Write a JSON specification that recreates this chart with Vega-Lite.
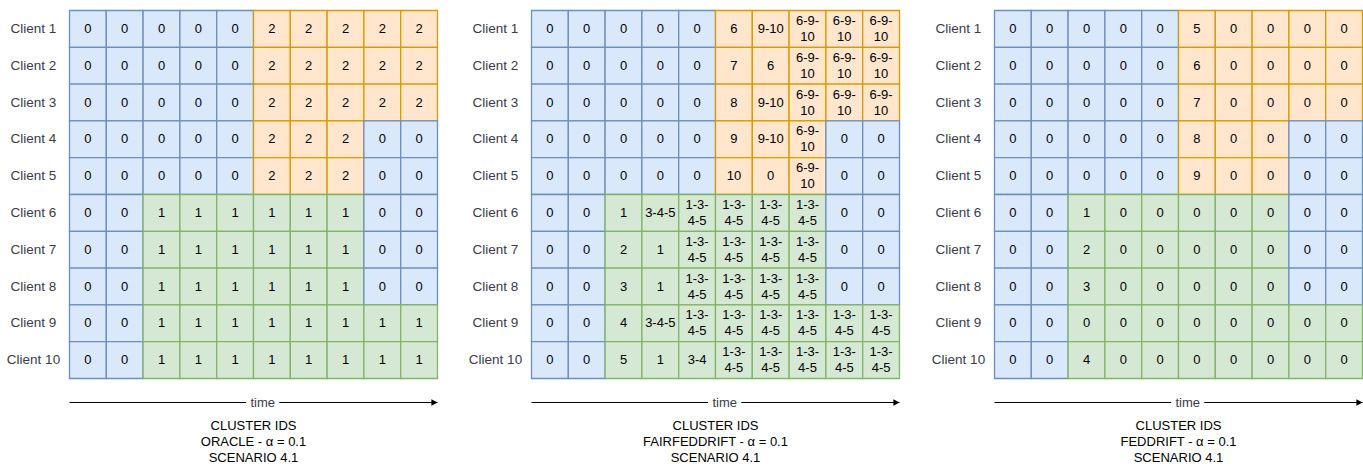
{
  "$schema": "https://vega.github.io/schema/vega-lite/v6.json",
  "background": "white",
  "padding": {"left": 5.5, "top": 9.5, "right": 0, "bottom": 0},
  "config": {"view": {"stroke": null}, "concat": {"spacing": 29}},
  "datasets": {
    "cells": [
      {"p":"A","c":1,"t":1,"l":"0","k":"b"},{"p":"A","c":1,"t":2,"l":"0","k":"b"},{"p":"A","c":1,"t":3,"l":"0","k":"b"},{"p":"A","c":1,"t":4,"l":"0","k":"b"},{"p":"A","c":1,"t":5,"l":"0","k":"b"},{"p":"A","c":1,"t":6,"l":"2","k":"o"},{"p":"A","c":1,"t":7,"l":"2","k":"o"},{"p":"A","c":1,"t":8,"l":"2","k":"o"},{"p":"A","c":1,"t":9,"l":"2","k":"o"},{"p":"A","c":1,"t":10,"l":"2","k":"o"},
      {"p":"A","c":2,"t":1,"l":"0","k":"b"},{"p":"A","c":2,"t":2,"l":"0","k":"b"},{"p":"A","c":2,"t":3,"l":"0","k":"b"},{"p":"A","c":2,"t":4,"l":"0","k":"b"},{"p":"A","c":2,"t":5,"l":"0","k":"b"},{"p":"A","c":2,"t":6,"l":"2","k":"o"},{"p":"A","c":2,"t":7,"l":"2","k":"o"},{"p":"A","c":2,"t":8,"l":"2","k":"o"},{"p":"A","c":2,"t":9,"l":"2","k":"o"},{"p":"A","c":2,"t":10,"l":"2","k":"o"},
      {"p":"A","c":3,"t":1,"l":"0","k":"b"},{"p":"A","c":3,"t":2,"l":"0","k":"b"},{"p":"A","c":3,"t":3,"l":"0","k":"b"},{"p":"A","c":3,"t":4,"l":"0","k":"b"},{"p":"A","c":3,"t":5,"l":"0","k":"b"},{"p":"A","c":3,"t":6,"l":"2","k":"o"},{"p":"A","c":3,"t":7,"l":"2","k":"o"},{"p":"A","c":3,"t":8,"l":"2","k":"o"},{"p":"A","c":3,"t":9,"l":"2","k":"o"},{"p":"A","c":3,"t":10,"l":"2","k":"o"},
      {"p":"A","c":4,"t":1,"l":"0","k":"b"},{"p":"A","c":4,"t":2,"l":"0","k":"b"},{"p":"A","c":4,"t":3,"l":"0","k":"b"},{"p":"A","c":4,"t":4,"l":"0","k":"b"},{"p":"A","c":4,"t":5,"l":"0","k":"b"},{"p":"A","c":4,"t":6,"l":"2","k":"o"},{"p":"A","c":4,"t":7,"l":"2","k":"o"},{"p":"A","c":4,"t":8,"l":"2","k":"o"},{"p":"A","c":4,"t":9,"l":"0","k":"b"},{"p":"A","c":4,"t":10,"l":"0","k":"b"},
      {"p":"A","c":5,"t":1,"l":"0","k":"b"},{"p":"A","c":5,"t":2,"l":"0","k":"b"},{"p":"A","c":5,"t":3,"l":"0","k":"b"},{"p":"A","c":5,"t":4,"l":"0","k":"b"},{"p":"A","c":5,"t":5,"l":"0","k":"b"},{"p":"A","c":5,"t":6,"l":"2","k":"o"},{"p":"A","c":5,"t":7,"l":"2","k":"o"},{"p":"A","c":5,"t":8,"l":"2","k":"o"},{"p":"A","c":5,"t":9,"l":"0","k":"b"},{"p":"A","c":5,"t":10,"l":"0","k":"b"},
      {"p":"A","c":6,"t":1,"l":"0","k":"b"},{"p":"A","c":6,"t":2,"l":"0","k":"b"},{"p":"A","c":6,"t":3,"l":"1","k":"g"},{"p":"A","c":6,"t":4,"l":"1","k":"g"},{"p":"A","c":6,"t":5,"l":"1","k":"g"},{"p":"A","c":6,"t":6,"l":"1","k":"g"},{"p":"A","c":6,"t":7,"l":"1","k":"g"},{"p":"A","c":6,"t":8,"l":"1","k":"g"},{"p":"A","c":6,"t":9,"l":"0","k":"b"},{"p":"A","c":6,"t":10,"l":"0","k":"b"},
      {"p":"A","c":7,"t":1,"l":"0","k":"b"},{"p":"A","c":7,"t":2,"l":"0","k":"b"},{"p":"A","c":7,"t":3,"l":"1","k":"g"},{"p":"A","c":7,"t":4,"l":"1","k":"g"},{"p":"A","c":7,"t":5,"l":"1","k":"g"},{"p":"A","c":7,"t":6,"l":"1","k":"g"},{"p":"A","c":7,"t":7,"l":"1","k":"g"},{"p":"A","c":7,"t":8,"l":"1","k":"g"},{"p":"A","c":7,"t":9,"l":"0","k":"b"},{"p":"A","c":7,"t":10,"l":"0","k":"b"},
      {"p":"A","c":8,"t":1,"l":"0","k":"b"},{"p":"A","c":8,"t":2,"l":"0","k":"b"},{"p":"A","c":8,"t":3,"l":"1","k":"g"},{"p":"A","c":8,"t":4,"l":"1","k":"g"},{"p":"A","c":8,"t":5,"l":"1","k":"g"},{"p":"A","c":8,"t":6,"l":"1","k":"g"},{"p":"A","c":8,"t":7,"l":"1","k":"g"},{"p":"A","c":8,"t":8,"l":"1","k":"g"},{"p":"A","c":8,"t":9,"l":"0","k":"b"},{"p":"A","c":8,"t":10,"l":"0","k":"b"},
      {"p":"A","c":9,"t":1,"l":"0","k":"b"},{"p":"A","c":9,"t":2,"l":"0","k":"b"},{"p":"A","c":9,"t":3,"l":"1","k":"g"},{"p":"A","c":9,"t":4,"l":"1","k":"g"},{"p":"A","c":9,"t":5,"l":"1","k":"g"},{"p":"A","c":9,"t":6,"l":"1","k":"g"},{"p":"A","c":9,"t":7,"l":"1","k":"g"},{"p":"A","c":9,"t":8,"l":"1","k":"g"},{"p":"A","c":9,"t":9,"l":"1","k":"g"},{"p":"A","c":9,"t":10,"l":"1","k":"g"},
      {"p":"A","c":10,"t":1,"l":"0","k":"b"},{"p":"A","c":10,"t":2,"l":"0","k":"b"},{"p":"A","c":10,"t":3,"l":"1","k":"g"},{"p":"A","c":10,"t":4,"l":"1","k":"g"},{"p":"A","c":10,"t":5,"l":"1","k":"g"},{"p":"A","c":10,"t":6,"l":"1","k":"g"},{"p":"A","c":10,"t":7,"l":"1","k":"g"},{"p":"A","c":10,"t":8,"l":"1","k":"g"},{"p":"A","c":10,"t":9,"l":"1","k":"g"},{"p":"A","c":10,"t":10,"l":"1","k":"g"},

      {"p":"B","c":1,"t":1,"l":"0","k":"b"},{"p":"B","c":1,"t":2,"l":"0","k":"b"},{"p":"B","c":1,"t":3,"l":"0","k":"b"},{"p":"B","c":1,"t":4,"l":"0","k":"b"},{"p":"B","c":1,"t":5,"l":"0","k":"b"},{"p":"B","c":1,"t":6,"l":"6","k":"o"},{"p":"B","c":1,"t":7,"l":"9-10","k":"o"},{"p":"B","c":1,"t":8,"l":"6-9-\n10","k":"o"},{"p":"B","c":1,"t":9,"l":"6-9-\n10","k":"o"},{"p":"B","c":1,"t":10,"l":"6-9-\n10","k":"o"},
      {"p":"B","c":2,"t":1,"l":"0","k":"b"},{"p":"B","c":2,"t":2,"l":"0","k":"b"},{"p":"B","c":2,"t":3,"l":"0","k":"b"},{"p":"B","c":2,"t":4,"l":"0","k":"b"},{"p":"B","c":2,"t":5,"l":"0","k":"b"},{"p":"B","c":2,"t":6,"l":"7","k":"o"},{"p":"B","c":2,"t":7,"l":"6","k":"o"},{"p":"B","c":2,"t":8,"l":"6-9-\n10","k":"o"},{"p":"B","c":2,"t":9,"l":"6-9-\n10","k":"o"},{"p":"B","c":2,"t":10,"l":"6-9-\n10","k":"o"},
      {"p":"B","c":3,"t":1,"l":"0","k":"b"},{"p":"B","c":3,"t":2,"l":"0","k":"b"},{"p":"B","c":3,"t":3,"l":"0","k":"b"},{"p":"B","c":3,"t":4,"l":"0","k":"b"},{"p":"B","c":3,"t":5,"l":"0","k":"b"},{"p":"B","c":3,"t":6,"l":"8","k":"o"},{"p":"B","c":3,"t":7,"l":"9-10","k":"o"},{"p":"B","c":3,"t":8,"l":"6-9-\n10","k":"o"},{"p":"B","c":3,"t":9,"l":"6-9-\n10","k":"o"},{"p":"B","c":3,"t":10,"l":"6-9-\n10","k":"o"},
      {"p":"B","c":4,"t":1,"l":"0","k":"b"},{"p":"B","c":4,"t":2,"l":"0","k":"b"},{"p":"B","c":4,"t":3,"l":"0","k":"b"},{"p":"B","c":4,"t":4,"l":"0","k":"b"},{"p":"B","c":4,"t":5,"l":"0","k":"b"},{"p":"B","c":4,"t":6,"l":"9","k":"o"},{"p":"B","c":4,"t":7,"l":"9-10","k":"o"},{"p":"B","c":4,"t":8,"l":"6-9-\n10","k":"o"},{"p":"B","c":4,"t":9,"l":"0","k":"b"},{"p":"B","c":4,"t":10,"l":"0","k":"b"},
      {"p":"B","c":5,"t":1,"l":"0","k":"b"},{"p":"B","c":5,"t":2,"l":"0","k":"b"},{"p":"B","c":5,"t":3,"l":"0","k":"b"},{"p":"B","c":5,"t":4,"l":"0","k":"b"},{"p":"B","c":5,"t":5,"l":"0","k":"b"},{"p":"B","c":5,"t":6,"l":"10","k":"o"},{"p":"B","c":5,"t":7,"l":"0","k":"o"},{"p":"B","c":5,"t":8,"l":"6-9-\n10","k":"o"},{"p":"B","c":5,"t":9,"l":"0","k":"b"},{"p":"B","c":5,"t":10,"l":"0","k":"b"},
      {"p":"B","c":6,"t":1,"l":"0","k":"b"},{"p":"B","c":6,"t":2,"l":"0","k":"b"},{"p":"B","c":6,"t":3,"l":"1","k":"g"},{"p":"B","c":6,"t":4,"l":"3-4-5","k":"g"},{"p":"B","c":6,"t":5,"l":"1-3-\n4-5","k":"g"},{"p":"B","c":6,"t":6,"l":"1-3-\n4-5","k":"g"},{"p":"B","c":6,"t":7,"l":"1-3-\n4-5","k":"g"},{"p":"B","c":6,"t":8,"l":"1-3-\n4-5","k":"g"},{"p":"B","c":6,"t":9,"l":"0","k":"b"},{"p":"B","c":6,"t":10,"l":"0","k":"b"},
      {"p":"B","c":7,"t":1,"l":"0","k":"b"},{"p":"B","c":7,"t":2,"l":"0","k":"b"},{"p":"B","c":7,"t":3,"l":"2","k":"g"},{"p":"B","c":7,"t":4,"l":"1","k":"g"},{"p":"B","c":7,"t":5,"l":"1-3-\n4-5","k":"g"},{"p":"B","c":7,"t":6,"l":"1-3-\n4-5","k":"g"},{"p":"B","c":7,"t":7,"l":"1-3-\n4-5","k":"g"},{"p":"B","c":7,"t":8,"l":"1-3-\n4-5","k":"g"},{"p":"B","c":7,"t":9,"l":"0","k":"b"},{"p":"B","c":7,"t":10,"l":"0","k":"b"},
      {"p":"B","c":8,"t":1,"l":"0","k":"b"},{"p":"B","c":8,"t":2,"l":"0","k":"b"},{"p":"B","c":8,"t":3,"l":"3","k":"g"},{"p":"B","c":8,"t":4,"l":"1","k":"g"},{"p":"B","c":8,"t":5,"l":"1-3-\n4-5","k":"g"},{"p":"B","c":8,"t":6,"l":"1-3-\n4-5","k":"g"},{"p":"B","c":8,"t":7,"l":"1-3-\n4-5","k":"g"},{"p":"B","c":8,"t":8,"l":"1-3-\n4-5","k":"g"},{"p":"B","c":8,"t":9,"l":"0","k":"b"},{"p":"B","c":8,"t":10,"l":"0","k":"b"},
      {"p":"B","c":9,"t":1,"l":"0","k":"b"},{"p":"B","c":9,"t":2,"l":"0","k":"b"},{"p":"B","c":9,"t":3,"l":"4","k":"g"},{"p":"B","c":9,"t":4,"l":"3-4-5","k":"g"},{"p":"B","c":9,"t":5,"l":"1-3-\n4-5","k":"g"},{"p":"B","c":9,"t":6,"l":"1-3-\n4-5","k":"g"},{"p":"B","c":9,"t":7,"l":"1-3-\n4-5","k":"g"},{"p":"B","c":9,"t":8,"l":"1-3-\n4-5","k":"g"},{"p":"B","c":9,"t":9,"l":"1-3-\n4-5","k":"g"},{"p":"B","c":9,"t":10,"l":"1-3-\n4-5","k":"g"},
      {"p":"B","c":10,"t":1,"l":"0","k":"b"},{"p":"B","c":10,"t":2,"l":"0","k":"b"},{"p":"B","c":10,"t":3,"l":"5","k":"g"},{"p":"B","c":10,"t":4,"l":"1","k":"g"},{"p":"B","c":10,"t":5,"l":"3-4","k":"g"},{"p":"B","c":10,"t":6,"l":"1-3-\n4-5","k":"g"},{"p":"B","c":10,"t":7,"l":"1-3-\n4-5","k":"g"},{"p":"B","c":10,"t":8,"l":"1-3-\n4-5","k":"g"},{"p":"B","c":10,"t":9,"l":"1-3-\n4-5","k":"g"},{"p":"B","c":10,"t":10,"l":"1-3-\n4-5","k":"g"},

      {"p":"C","c":1,"t":1,"l":"0","k":"b"},{"p":"C","c":1,"t":2,"l":"0","k":"b"},{"p":"C","c":1,"t":3,"l":"0","k":"b"},{"p":"C","c":1,"t":4,"l":"0","k":"b"},{"p":"C","c":1,"t":5,"l":"0","k":"b"},{"p":"C","c":1,"t":6,"l":"5","k":"o"},{"p":"C","c":1,"t":7,"l":"0","k":"o"},{"p":"C","c":1,"t":8,"l":"0","k":"o"},{"p":"C","c":1,"t":9,"l":"0","k":"o"},{"p":"C","c":1,"t":10,"l":"0","k":"o"},
      {"p":"C","c":2,"t":1,"l":"0","k":"b"},{"p":"C","c":2,"t":2,"l":"0","k":"b"},{"p":"C","c":2,"t":3,"l":"0","k":"b"},{"p":"C","c":2,"t":4,"l":"0","k":"b"},{"p":"C","c":2,"t":5,"l":"0","k":"b"},{"p":"C","c":2,"t":6,"l":"6","k":"o"},{"p":"C","c":2,"t":7,"l":"0","k":"o"},{"p":"C","c":2,"t":8,"l":"0","k":"o"},{"p":"C","c":2,"t":9,"l":"0","k":"o"},{"p":"C","c":2,"t":10,"l":"0","k":"o"},
      {"p":"C","c":3,"t":1,"l":"0","k":"b"},{"p":"C","c":3,"t":2,"l":"0","k":"b"},{"p":"C","c":3,"t":3,"l":"0","k":"b"},{"p":"C","c":3,"t":4,"l":"0","k":"b"},{"p":"C","c":3,"t":5,"l":"0","k":"b"},{"p":"C","c":3,"t":6,"l":"7","k":"o"},{"p":"C","c":3,"t":7,"l":"0","k":"o"},{"p":"C","c":3,"t":8,"l":"0","k":"o"},{"p":"C","c":3,"t":9,"l":"0","k":"o"},{"p":"C","c":3,"t":10,"l":"0","k":"o"},
      {"p":"C","c":4,"t":1,"l":"0","k":"b"},{"p":"C","c":4,"t":2,"l":"0","k":"b"},{"p":"C","c":4,"t":3,"l":"0","k":"b"},{"p":"C","c":4,"t":4,"l":"0","k":"b"},{"p":"C","c":4,"t":5,"l":"0","k":"b"},{"p":"C","c":4,"t":6,"l":"8","k":"o"},{"p":"C","c":4,"t":7,"l":"0","k":"o"},{"p":"C","c":4,"t":8,"l":"0","k":"o"},{"p":"C","c":4,"t":9,"l":"0","k":"b"},{"p":"C","c":4,"t":10,"l":"0","k":"b"},
      {"p":"C","c":5,"t":1,"l":"0","k":"b"},{"p":"C","c":5,"t":2,"l":"0","k":"b"},{"p":"C","c":5,"t":3,"l":"0","k":"b"},{"p":"C","c":5,"t":4,"l":"0","k":"b"},{"p":"C","c":5,"t":5,"l":"0","k":"b"},{"p":"C","c":5,"t":6,"l":"9","k":"o"},{"p":"C","c":5,"t":7,"l":"0","k":"o"},{"p":"C","c":5,"t":8,"l":"0","k":"o"},{"p":"C","c":5,"t":9,"l":"0","k":"b"},{"p":"C","c":5,"t":10,"l":"0","k":"b"},
      {"p":"C","c":6,"t":1,"l":"0","k":"b"},{"p":"C","c":6,"t":2,"l":"0","k":"b"},{"p":"C","c":6,"t":3,"l":"1","k":"g"},{"p":"C","c":6,"t":4,"l":"0","k":"g"},{"p":"C","c":6,"t":5,"l":"0","k":"g"},{"p":"C","c":6,"t":6,"l":"0","k":"g"},{"p":"C","c":6,"t":7,"l":"0","k":"g"},{"p":"C","c":6,"t":8,"l":"0","k":"g"},{"p":"C","c":6,"t":9,"l":"0","k":"b"},{"p":"C","c":6,"t":10,"l":"0","k":"b"},
      {"p":"C","c":7,"t":1,"l":"0","k":"b"},{"p":"C","c":7,"t":2,"l":"0","k":"b"},{"p":"C","c":7,"t":3,"l":"2","k":"g"},{"p":"C","c":7,"t":4,"l":"0","k":"g"},{"p":"C","c":7,"t":5,"l":"0","k":"g"},{"p":"C","c":7,"t":6,"l":"0","k":"g"},{"p":"C","c":7,"t":7,"l":"0","k":"g"},{"p":"C","c":7,"t":8,"l":"0","k":"g"},{"p":"C","c":7,"t":9,"l":"0","k":"b"},{"p":"C","c":7,"t":10,"l":"0","k":"b"},
      {"p":"C","c":8,"t":1,"l":"0","k":"b"},{"p":"C","c":8,"t":2,"l":"0","k":"b"},{"p":"C","c":8,"t":3,"l":"3","k":"g"},{"p":"C","c":8,"t":4,"l":"0","k":"g"},{"p":"C","c":8,"t":5,"l":"0","k":"g"},{"p":"C","c":8,"t":6,"l":"0","k":"g"},{"p":"C","c":8,"t":7,"l":"0","k":"g"},{"p":"C","c":8,"t":8,"l":"0","k":"g"},{"p":"C","c":8,"t":9,"l":"0","k":"b"},{"p":"C","c":8,"t":10,"l":"0","k":"b"},
      {"p":"C","c":9,"t":1,"l":"0","k":"b"},{"p":"C","c":9,"t":2,"l":"0","k":"b"},{"p":"C","c":9,"t":3,"l":"0","k":"g"},{"p":"C","c":9,"t":4,"l":"0","k":"g"},{"p":"C","c":9,"t":5,"l":"0","k":"g"},{"p":"C","c":9,"t":6,"l":"0","k":"g"},{"p":"C","c":9,"t":7,"l":"0","k":"g"},{"p":"C","c":9,"t":8,"l":"0","k":"g"},{"p":"C","c":9,"t":9,"l":"0","k":"g"},{"p":"C","c":9,"t":10,"l":"0","k":"g"},
      {"p":"C","c":10,"t":1,"l":"0","k":"b"},{"p":"C","c":10,"t":2,"l":"0","k":"b"},{"p":"C","c":10,"t":3,"l":"4","k":"g"},{"p":"C","c":10,"t":4,"l":"0","k":"g"},{"p":"C","c":10,"t":5,"l":"0","k":"g"},{"p":"C","c":10,"t":6,"l":"0","k":"g"},{"p":"C","c":10,"t":7,"l":"0","k":"g"},{"p":"C","c":10,"t":8,"l":"0","k":"g"},{"p":"C","c":10,"t":9,"l":"0","k":"g"},{"p":"C","c":10,"t":10,"l":"0","k":"g"}
    ],
    "arrowLine": [{"a": 0, "b": 4.8, "lv": 0}, {"a": 5.7, "b": 10, "lv": 0}],
    "arrowHead": [{"a": 10, "lv": 0}],
    "arrowText": [{"a": 5.25, "lv": 0, "txt": "time"}]
  },
  "hconcat": [
    {
      "spacing": 16,
      "vconcat": [
        {
          "width": 368, "height": 368,
          "data": {"name": "cells"},
          "transform": [{"filter": "datum.p === 'A'"}],
          "encoding": {
            "x": {"field": "t", "type": "ordinal", "axis": null, "scale": {"paddingInner": 0, "paddingOuter": 0}},
            "y": {"field": "c", "type": "ordinal", "scale": {"paddingInner": 0, "paddingOuter": 0},
                  "axis": {"title": null, "domain": false, "ticks": false, "labelAlign": "center", "labelPadding": 36.5, "minExtent": 62, "maxExtent": 62, "labelFontSize": 13.5, "labelFont": "Liberation Sans", "labelColor": "#3b3b4a", "labelExpr": "'Client ' + datum.value"}}
          },
          "layer": [
            {"mark": {"type": "rect", "strokeWidth": 1.3},
             "encoding": {
               "fill": {"field": "k", "type": "nominal", "legend": null, "scale": {"domain": ["b", "o", "g"], "range": ["#dae8fc", "#ffe6cc", "#d5e8d4"]}},
               "stroke": {"field": "k", "type": "nominal", "legend": null, "scale": {"domain": ["b", "o", "g"], "range": ["#6c8ebf", "#d79b00", "#82b366"]}}
             }},
            {"transform": [{"filter": "indexof(datum.l, '\\n') < 0"}],
             "mark": {"type": "text", "fontSize": 13, "font": "Liberation Sans", "color": "#000000"},
             "encoding": {"text": {"field": "l"}}},
            {"transform": [{"filter": "indexof(datum.l, '\\n') >= 0"}],
             "mark": {"type": "text", "lineBreak": "\n", "fontSize": 13, "font": "Liberation Sans", "lineHeight": 16, "dy": -8, "color": "#000000"},
             "encoding": {"text": {"field": "l"}}}
          ]
        },
        {
          "width": 368, "height": 14,
          "title": {"text": ["CLUSTER IDS", "ORACLE - α = 0.1", "SCENARIO 4.1"], "orient": "bottom", "anchor": "middle", "frame": "group", "fontSize": 13, "font": "Liberation Sans", "fontWeight": "normal", "lineHeight": 16, "offset": 10, "color": "#000000"},
          "encoding": {
            "x": {"field": "a", "type": "quantitative", "axis": null, "scale": {"domain": [0, 10], "nice": false, "zero": false}},
            "y": {"field": "lv", "type": "quantitative", "axis": null, "scale": {"domain": [-1, 1]}}
          },
          "layer": [
            {"data": {"name": "arrowLine"}, "mark": {"type": "rule", "color": "#000000", "strokeWidth": 1.2}, "encoding": {"x2": {"field": "b"}}},
            {"data": {"name": "arrowHead"}, "mark": {"type": "point", "shape": "M-1,-0.55L0,0L-1,0.55Z", "filled": true, "color": "#000000", "size": 150, "opacity": 1}},
            {"data": {"name": "arrowText"}, "mark": {"type": "text", "fontSize": 13, "font": "Liberation Sans", "color": "#3b3b4a"}, "encoding": {"text": {"field": "txt"}}}
          ]
        }
      ]
    },
    {
      "spacing": 16,
      "vconcat": [
        {
          "width": 368, "height": 368,
          "data": {"name": "cells"},
          "transform": [{"filter": "datum.p === 'B'"}],
          "encoding": {
            "x": {"field": "t", "type": "ordinal", "axis": null, "scale": {"paddingInner": 0, "paddingOuter": 0}},
            "y": {"field": "c", "type": "ordinal", "scale": {"paddingInner": 0, "paddingOuter": 0},
                  "axis": {"title": null, "domain": false, "ticks": false, "labelAlign": "center", "labelPadding": 36.5, "minExtent": 62, "maxExtent": 62, "labelFontSize": 13.5, "labelFont": "Liberation Sans", "labelColor": "#3b3b4a", "labelExpr": "'Client ' + datum.value"}}
          },
          "layer": [
            {"mark": {"type": "rect", "strokeWidth": 1.3},
             "encoding": {
               "fill": {"field": "k", "type": "nominal", "legend": null, "scale": {"domain": ["b", "o", "g"], "range": ["#dae8fc", "#ffe6cc", "#d5e8d4"]}},
               "stroke": {"field": "k", "type": "nominal", "legend": null, "scale": {"domain": ["b", "o", "g"], "range": ["#6c8ebf", "#d79b00", "#82b366"]}}
             }},
            {"transform": [{"filter": "indexof(datum.l, '\\n') < 0"}],
             "mark": {"type": "text", "fontSize": 13, "font": "Liberation Sans", "color": "#000000"},
             "encoding": {"text": {"field": "l"}}},
            {"transform": [{"filter": "indexof(datum.l, '\\n') >= 0"}],
             "mark": {"type": "text", "lineBreak": "\n", "fontSize": 13, "font": "Liberation Sans", "lineHeight": 16, "dy": -8, "color": "#000000"},
             "encoding": {"text": {"field": "l"}}}
          ]
        },
        {
          "width": 368, "height": 14,
          "title": {"text": ["CLUSTER IDS", "FAIRFEDDRIFT - α = 0.1", "SCENARIO 4.1"], "orient": "bottom", "anchor": "middle", "frame": "group", "fontSize": 13, "font": "Liberation Sans", "fontWeight": "normal", "lineHeight": 16, "offset": 10, "color": "#000000"},
          "encoding": {
            "x": {"field": "a", "type": "quantitative", "axis": null, "scale": {"domain": [0, 10], "nice": false, "zero": false}},
            "y": {"field": "lv", "type": "quantitative", "axis": null, "scale": {"domain": [-1, 1]}}
          },
          "layer": [
            {"data": {"name": "arrowLine"}, "mark": {"type": "rule", "color": "#000000", "strokeWidth": 1.2}, "encoding": {"x2": {"field": "b"}}},
            {"data": {"name": "arrowHead"}, "mark": {"type": "point", "shape": "M-1,-0.55L0,0L-1,0.55Z", "filled": true, "color": "#000000", "size": 150, "opacity": 1}},
            {"data": {"name": "arrowText"}, "mark": {"type": "text", "fontSize": 13, "font": "Liberation Sans", "color": "#3b3b4a"}, "encoding": {"text": {"field": "txt"}}}
          ]
        }
      ]
    },
    {
      "spacing": 16,
      "vconcat": [
        {
          "width": 368, "height": 368,
          "data": {"name": "cells"},
          "transform": [{"filter": "datum.p === 'C'"}],
          "encoding": {
            "x": {"field": "t", "type": "ordinal", "axis": null, "scale": {"paddingInner": 0, "paddingOuter": 0}},
            "y": {"field": "c", "type": "ordinal", "scale": {"paddingInner": 0, "paddingOuter": 0},
                  "axis": {"title": null, "domain": false, "ticks": false, "labelAlign": "center", "labelPadding": 36.5, "minExtent": 65, "maxExtent": 65, "labelFontSize": 13.5, "labelFont": "Liberation Sans", "labelColor": "#3b3b4a", "labelExpr": "'Client ' + datum.value"}}
          },
          "layer": [
            {"mark": {"type": "rect", "strokeWidth": 1.3},
             "encoding": {
               "fill": {"field": "k", "type": "nominal", "legend": null, "scale": {"domain": ["b", "o", "g"], "range": ["#dae8fc", "#ffe6cc", "#d5e8d4"]}},
               "stroke": {"field": "k", "type": "nominal", "legend": null, "scale": {"domain": ["b", "o", "g"], "range": ["#6c8ebf", "#d79b00", "#82b366"]}}
             }},
            {"transform": [{"filter": "indexof(datum.l, '\\n') < 0"}],
             "mark": {"type": "text", "fontSize": 13, "font": "Liberation Sans", "color": "#000000"},
             "encoding": {"text": {"field": "l"}}},
            {"transform": [{"filter": "indexof(datum.l, '\\n') >= 0"}],
             "mark": {"type": "text", "lineBreak": "\n", "fontSize": 13, "font": "Liberation Sans", "lineHeight": 16, "dy": -8, "color": "#000000"},
             "encoding": {"text": {"field": "l"}}}
          ]
        },
        {
          "width": 368, "height": 14,
          "title": {"text": ["CLUSTER IDS", "FEDDRIFT - α = 0.1", "SCENARIO 4.1"], "orient": "bottom", "anchor": "middle", "frame": "group", "fontSize": 13, "font": "Liberation Sans", "fontWeight": "normal", "lineHeight": 16, "offset": 10, "color": "#000000"},
          "encoding": {
            "x": {"field": "a", "type": "quantitative", "axis": null, "scale": {"domain": [0, 10], "nice": false, "zero": false}},
            "y": {"field": "lv", "type": "quantitative", "axis": null, "scale": {"domain": [-1, 1]}}
          },
          "layer": [
            {"data": {"name": "arrowLine"}, "mark": {"type": "rule", "color": "#000000", "strokeWidth": 1.2}, "encoding": {"x2": {"field": "b"}}},
            {"data": {"name": "arrowHead"}, "mark": {"type": "point", "shape": "M-1,-0.55L0,0L-1,0.55Z", "filled": true, "color": "#000000", "size": 150, "opacity": 1}},
            {"data": {"name": "arrowText"}, "mark": {"type": "text", "fontSize": 13, "font": "Liberation Sans", "color": "#3b3b4a"}, "encoding": {"text": {"field": "txt"}}}
          ]
        }
      ]
    }
  ]
}
